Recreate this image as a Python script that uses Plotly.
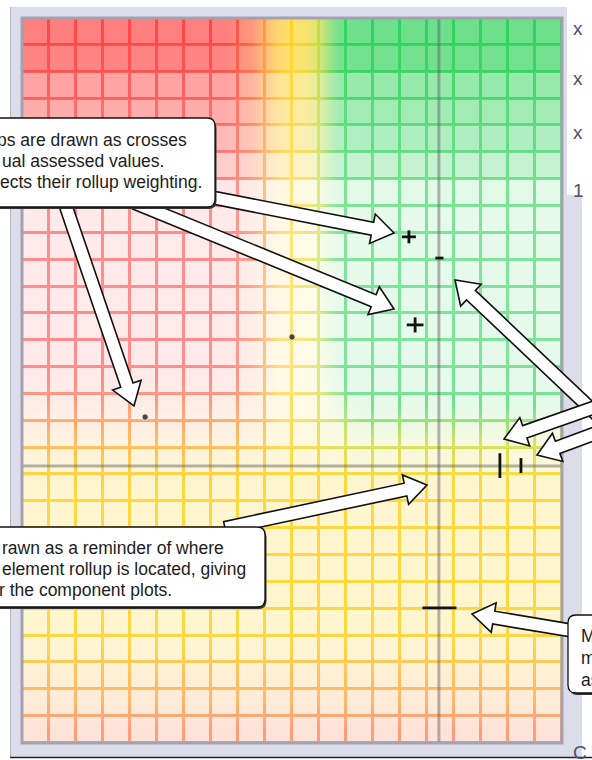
import plotly.graph_objects as go

# assessment matrix: 20 columns x 27 rows, row 0 is the bottom row
n_cols = 20
n_rows = 27

# colour index per column in the weighted band (0 red, 45 yellow, 100 green)
col_hue = [0, 0, 0, 0, 0, 0, 0, 0, 10, 40, 50, 80, 100, 100, 100, 100, 100, 100, 100, 100]

# per row, bottom to top
row_base = [12, 24, 32, 42, 45, 45, 45, 45, 45, 45, 45, 45, 45, 45,
            45, 45, 45, 45, 45, 45, 45, 45, 45, 45, 45, 45, 45]
row_mix = [0, 0, 0, 0, 0, 0, 0, 0, 0, 0, 0.15, 0.42, 0.7, 0.95,
           1, 1, 1, 1, 1, 1, 1, 1, 1, 1, 1, 1, 1]
line_white = [0.3, 0.25, 0.2, 0.15, 0.1, 0.1, 0.1, 0.1, 0.1, 0.1, 0.15, 0.22, 0.3, 0.35,
              0.38, 0.38, 0.38, 0.38, 0.38, 0.38, 0.36, 0.3, 0.25, 0.2, 0.12, 0.05, 0.0]
fill_white = [0.8, 0.8, 0.8, 0.8, 0.78, 0.78, 0.78, 0.78, 0.78, 0.78, 0.82, 0.85, 0.87, 0.88,
              0.88, 0.88, 0.88, 0.88, 0.88, 0.88, 0.86, 0.72, 0.62, 0.55, 0.5, 0.33, 0.3]

# component rollups (crosses) and the element rollup crosshair
comp_x = [4.56, 10.0, 14.33, 15.46, 14.56, 17.7, 18.48, 15.46]
comp_y = [12.14, 15.12, 18.85, 18.06, 15.57, 10.33, 10.33, 5.03]
comp_ex = [0, 0, 0.26, 0.15, 0.31, 0, 0, 0.63]
comp_ey = [0, 0, 0.24, 0, 0.28, 0.46, 0.28, 0]
comp_dot = [6.5, 6.5, 0, 0, 0, 0, 0, 0]
rollup_x = 15.44
rollup_y = 10.32

# right hand tick labels (partly cropped in the source)
tick_text = ["x", "x", "x", "1", "C"]
tick_pos = [28, 78, 132, 190, 752]

hue_z = [[row_base[r] + row_mix[r] * (col_hue[c] - 45) for c in range(n_cols)] for r in range(n_rows)]
line_z = [[line_white[r]] * n_cols for r in range(n_rows)]
fill_z = [[1 - (1 - fill_white[r]) / (1 - line_white[r])] * n_cols for r in range(n_rows)]

hue_scale = [[0, '#ff4848'], [0.25, '#ffa03c'], [0.45, '#ffd42a'],
             [0.65, '#c4dc3c'], [0.85, '#36d45e'], [1, '#30d35b']]
white_scale = [[0, 'rgba(255,255,255,0)'], [1, 'rgba(255,255,255,1)']]

fig = go.Figure()
fig.add_trace(go.Heatmap(z=hue_z, x0=0.5, dx=1, y0=0.5, dy=1, colorscale=hue_scale,
                         zmin=0, zmax=100, zsmooth='best', showscale=False, hoverinfo='skip'))
fig.add_trace(go.Heatmap(z=line_z, x0=0.5, dx=1, y0=0.5, dy=1, colorscale=white_scale,
                         zmin=0, zmax=1, showscale=False, hoverinfo='skip'))
fig.add_trace(go.Heatmap(z=fill_z, x0=0.5, dx=1, y0=0.5, dy=1, colorscale=white_scale,
                         zmin=0, zmax=1, xgap=3, ygap=3, showscale=False, hoverinfo='skip'))

# element rollup crosshair
fig.add_trace(go.Scatter(x=[rollup_x, rollup_x], y=[0, n_rows], mode='lines',
                         line=dict(color='rgba(90,90,90,0.45)', width=3), hoverinfo='skip'))
fig.add_trace(go.Scatter(x=[0, n_cols], y=[rollup_y, rollup_y], mode='lines',
                         line=dict(color='rgba(90,90,90,0.45)', width=3), hoverinfo='skip'))

fig.add_trace(go.Scatter(
    x=comp_x, y=comp_y, mode='markers',
    marker=dict(size=comp_dot, color='#000000'),
    error_x=dict(type='data', array=comp_ex, width=0, thickness=2.8, color='#111111'),
    error_y=dict(type='data', array=comp_ey, width=0, thickness=2.8, color='#111111'),
    hoverinfo='skip'))


# pixel -> paper helpers for the callouts
def px(x):
    return (x - 22) / 540


def py(y):
    return (743 - y) / 725


def arrow_path(tail, tip, w=6.5, hw=15, hl=22):
    (x0, y0), (x1, y1) = tail, tip
    dx, dy = x1 - x0, y1 - y0
    d = (dx * dx + dy * dy) ** 0.5
    ux, uy = dx / d, dy / d
    nx, ny = -uy, ux
    bx, by = x1 - ux * hl, y1 - uy * hl
    pts = [(x0 + nx * w, y0 + ny * w), (bx + nx * w, by + ny * w), (bx + nx * hw, by + ny * hw),
           (x1, y1), (bx - nx * hw, by - ny * hw), (bx - nx * w, by - ny * w), (x0 - nx * w, y0 - ny * w)]
    return 'M' + ' L'.join(f'{px(a):.5f},{py(b):.5f}' for a, b in pts) + ' Z'


def box_path(x0, y0, x1, y1, r=8):
    return (f'M{px(x0 + r):.5f},{py(y0):.5f} L{px(x1 - r):.5f},{py(y0):.5f} '
            f'Q{px(x1):.5f},{py(y0):.5f} {px(x1):.5f},{py(y0 + r):.5f} '
            f'L{px(x1):.5f},{py(y1 - r):.5f} Q{px(x1):.5f},{py(y1):.5f} {px(x1 - r):.5f},{py(y1):.5f} '
            f'L{px(x0 + r):.5f},{py(y1):.5f} Q{px(x0):.5f},{py(y1):.5f} {px(x0):.5f},{py(y1 - r):.5f} '
            f'L{px(x0):.5f},{py(y0 + r):.5f} Q{px(x0):.5f},{py(y0):.5f} {px(x0 + r):.5f},{py(y0):.5f} Z')


def arrow(tail, tip):
    return dict(type='path', xref='paper', yref='paper', path=arrow_path(tail, tip),
                fillcolor='white', line=dict(color='#111111', width=1.6), layer='above')


def box(x0, y0, x1, y1):
    return [dict(type='path', xref='paper', yref='paper', path=box_path(x0 + 1.5, y0 + 2, x1 + 1.5, y1 + 2),
                 fillcolor='#333333', line=dict(width=0), layer='above'),
            dict(type='path', xref='paper', yref='paper', path=box_path(x0, y0, x1, y1),
                 fillcolor='white', line=dict(color='#111111', width=1.3), layer='above')]


shapes = [
    # frame around the plot
    dict(type='rect', xref='paper', yref='paper', x0=px(10), x1=px(567), y0=py(757), y1=py(7),
         fillcolor='#dcdcea', line=dict(width=0), layer='below'),
    dict(type='rect', xref='paper', yref='paper', x0=px(562), x1=px(582), y0=py(757), y1=py(195),
         fillcolor='#dcdcea', line=dict(width=0), layer='below'),
    dict(type='line', xref='paper', yref='paper', x0=px(10.5), x1=px(10.5), y0=py(757), y1=py(7),
         line=dict(color='#b4b4bc', width=1), layer='below'),
    dict(type='rect', xref='paper', yref='paper', x0=0, x1=1, y0=0, y1=1,
         line=dict(color='#a2a2b2', width=3), layer='above'),
    dict(type='line', xref='paper', yref='paper', x0=px(10), x1=px(592), y0=py(757.5), y1=py(757.5),
         line=dict(color='#222222', width=1.5), layer='above'),
]
shapes += [arrow((62, 195), (134, 406)), arrow((205, 196), (394, 233)), arrow((135, 203), (394, 309))]
shapes += box(-30, 118, 215, 207)
shapes += [arrow((225, 528), (427, 485))]
shapes += box(-30, 527, 265, 607)
shapes += [arrow((580, 632), (472, 614))]
shapes += box(568, 615, 640, 693)
shapes += [arrow((610, 427), (455, 280)), arrow((610, 402), (504, 439)), arrow((610, 428), (537, 455))]


def label(x, y, text, size=17.5, color='#1c1c1c'):
    return dict(x=px(x), y=py(y), xref='paper', yref='paper', text=text, showarrow=False,
                xanchor='left', yanchor='middle', borderpad=0,
                font=dict(family='Liberation Sans, Arial, sans-serif', size=size, color=color))


annots = [
    label(-4, 140, "ps are drawn as crosses"),
    label(1, 161, "ual assessed values."),
    label(-1, 182, "ects their rollup weighting."),
    label(0.5, 548, "rawn as a reminder of where"),
    label(0.5, 569, "element rollup is located, giving"),
    label(-2.5, 590, "r the component plots."),
    label(580, 636, "M"),
    label(580, 658, "m"),
    label(580, 680, "as"),
]
for t, p in zip(tick_text, tick_pos):
    annots.append(label(572, p, t, size=19, color='#45536f'))

fig.update_layout(
    width=592, height=760,
    margin=dict(l=22, r=30, t=18, b=17),
    paper_bgcolor='white', plot_bgcolor='white',
    showlegend=False,
    xaxis=dict(range=[0, n_cols], visible=False, fixedrange=True),
    yaxis=dict(range=[0, n_rows], visible=False, fixedrange=True),
    shapes=shapes,
    annotations=annots,
)

# page body margin off so the figure sits at the window corner
fig.write_html("out.html", config={'displayModeBar': False},
               post_script="document.body.style.margin='0';document.body.style.overflow='hidden';")
